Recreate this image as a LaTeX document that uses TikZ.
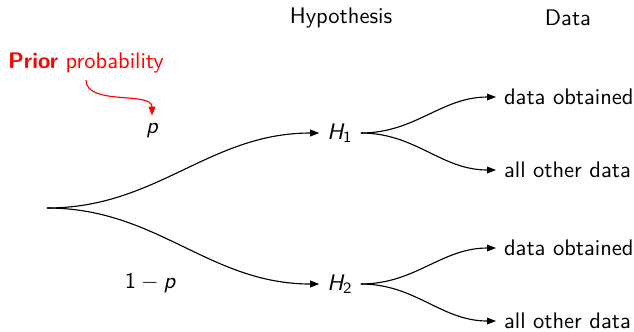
\documentclass[tikz,border=0pt]{standalone}
\usepackage{amsmath}
\usetikzlibrary{arrows.meta}
\renewcommand{\familydefault}{\sfdefault}
\newcommand{\sv}[1]{\textit{#1}}
\begin{document}
\begin{tikzpicture}[x=0.444pt,y=0.444pt,font=\sffamily,line width=0.5pt,
  >={Triangle[length=4pt,width=3pt]},
  branch/.style={->,out=0,in=180}]
\useasboundingbox (0,0) rectangle (634,331);
% column headers
\node (hyp) at (341,313) {Hypothesis};
\node (dat) at (568,313) {Data};
% hypotheses
\coordinate (root) at (47,123);
\node (h1) at (340,198) {$\sv{H}_{\textsf{1}}$};
\node (h2) at (340,47) {$\sv{H}_{\textsf{2}}$};
\node (p) at (152,200) {$\sv{p}$};
\node (q) at (150,48) {$\textsf{1}-\sv{p}$};
\draw[branch] (root) to (h1.west);
\draw[branch] (root) to (h2.west);
% data
\foreach \h/\y in {1/198,2/47} {
  \node[anchor=west] (obt\h) at (496,\y+36) {data obtained};
  \node[anchor=west] (oth\h) at (496,\y-37) {all other data};
  \draw[branch] (h\h.east) to (obt\h.west);
  \draw[branch] (h\h.east) to (oth\h.west);
}
% prior
\node[red] (prior) at (86,268) {\textbf{Prior} probability};
\coordinate (priortail) at (86,251);
\draw[red,->] (priortail) .. controls (86,225) and (152,240) .. (p.north);
\end{tikzpicture}
\end{document}
